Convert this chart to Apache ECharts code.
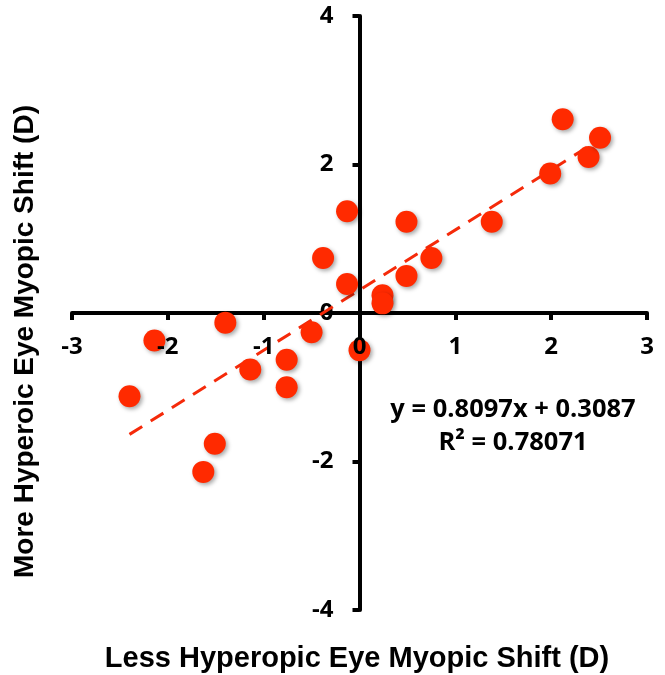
<!DOCTYPE html>
<html>
<head>
<meta charset="utf-8">
<script src="https://cdn.jsdelivr.net/npm/echarts@6/dist/echarts.min.js"></script>
<style>
  html, body { margin: 0; padding: 0; background: #fff; }
  #chart { width: 665px; height: 675px; }
</style>
</head>
<body>
<div id="chart"></div>
<script>
// shift data (D)
var lessEye = [-0.13, -0.38, -0.13, -1.40, 0.49, 0.24, 0.24, 0.49, 0.75, 1.38, 1.99, 2.12, 2.39, 2.51,
               -2.14, -0.50, 0.00, -0.76, -1.14, -0.76, -2.40, -1.51, -1.63];
var moreEye = [1.37, 0.74, 0.39, -0.13, 1.23, 0.24, 0.13, 0.50, 0.74, 1.23, 1.88, 2.61, 2.10, 2.36,
               -0.37, -0.26, -0.50, -0.63, -0.76, -1.00, -1.12, -1.76, -2.14];
var slope = 0.8097;
var intercept = 0.3087;
var rSquared = '0.78071';

var points = lessEye.map(function (x, i) { return [x, moreEye[i]]; });
var xLo = Math.min.apply(null, lessEye);
var xHi = Math.max.apply(null, lessEye);
var trend = [[xLo, slope * xLo + intercept], [xHi, slope * xHi + intercept]];

// grid size, used to put both axes through the origin
var W = 665, H = 675;
var gLeft = 72, gRight = 18, gTop = 16, gBottom = 65;
var gw = W - gLeft - gRight, gh = H - gTop - gBottom;

var axisStroke = { color: '#000', width: 4 };
var tickFont = { fontSize: 24, fontWeight: 'bold', color: '#000', fontFamily: 'Open Sans' };

var chart = echarts.init(document.getElementById('chart'));
chart.setOption({
    animation: false,
    grid: { left: gLeft, right: gRight, top: gTop, bottom: gBottom },
    xAxis: [
        {
            type: 'value',
            min: -3, max: 3, interval: 1,
            position: 'bottom',
            offset: -gh * 4 / 8,
            splitLine: { show: false },
            axisLine: { onZero: false, lineStyle: axisStroke },
            axisTick: { show: true, length: 7, lineStyle: axisStroke },
            axisLabel: { show: false }
        },
        {
            // labels only, drawn over the dots
            type: 'value',
            min: -3, max: 3, interval: 1,
            position: 'bottom',
            offset: -gh * 4 / 8,
            z: 5,
            splitLine: { show: false },
            axisLine: { show: false, onZero: false },
            axisTick: { show: false },
            axisLabel: Object.assign({ margin: 22 }, tickFont)
        }
    ],
    yAxis: {
        type: 'value',
        min: -4, max: 4, interval: 2,
        position: 'left',
        offset: -gw * 3 / 6,
        splitLine: { show: false },
        axisLine: { onZero: false, lineStyle: axisStroke },
        axisTick: { show: true, length: 7, lineStyle: axisStroke },
        axisLabel: Object.assign({ margin: 26 }, tickFont)
    },
    graphic: [
        {
            type: 'text', x: 357, y: 644,
            style: { text: 'Less Hyperopic Eye Myopic Shift (D)', font: 'bold 29px "Liberation Sans"', fill: '#000', align: 'center' }
        },
        {
            type: 'text', x: 11, y: 578, rotation: Math.PI / 2,
            style: { text: 'More Hyperoic Eye Myopic Shift (D)', font: 'bold 28px "Liberation Sans"', fill: '#000' }
        },
        {
            type: 'text', x: 513, y: 393,
            style: {
                text: 'y = ' + slope + 'x + ' + intercept + '\nR² = ' + rSquared,
                font: 'bold 25.5px "Open Sans"', fill: '#000', align: 'center', lineHeight: 33
            }
        }
    ],
    series: [
        {
            type: 'line',
            data: trend,
            symbol: 'none',
            z: 1,
            lineStyle: { color: '#f52a0a', width: 3, type: [15, 10] }
        },
        {
            type: 'scatter',
            data: points,
            symbolSize: 22,
            z: 2,
            itemStyle: {
                color: '#ff2a00', opacity: 1,
                shadowColor: 'rgba(0,0,0,0.35)', shadowBlur: 4, shadowOffsetX: 2, shadowOffsetY: 2
            }
        }
    ]
});
</script>
</body>
</html>
